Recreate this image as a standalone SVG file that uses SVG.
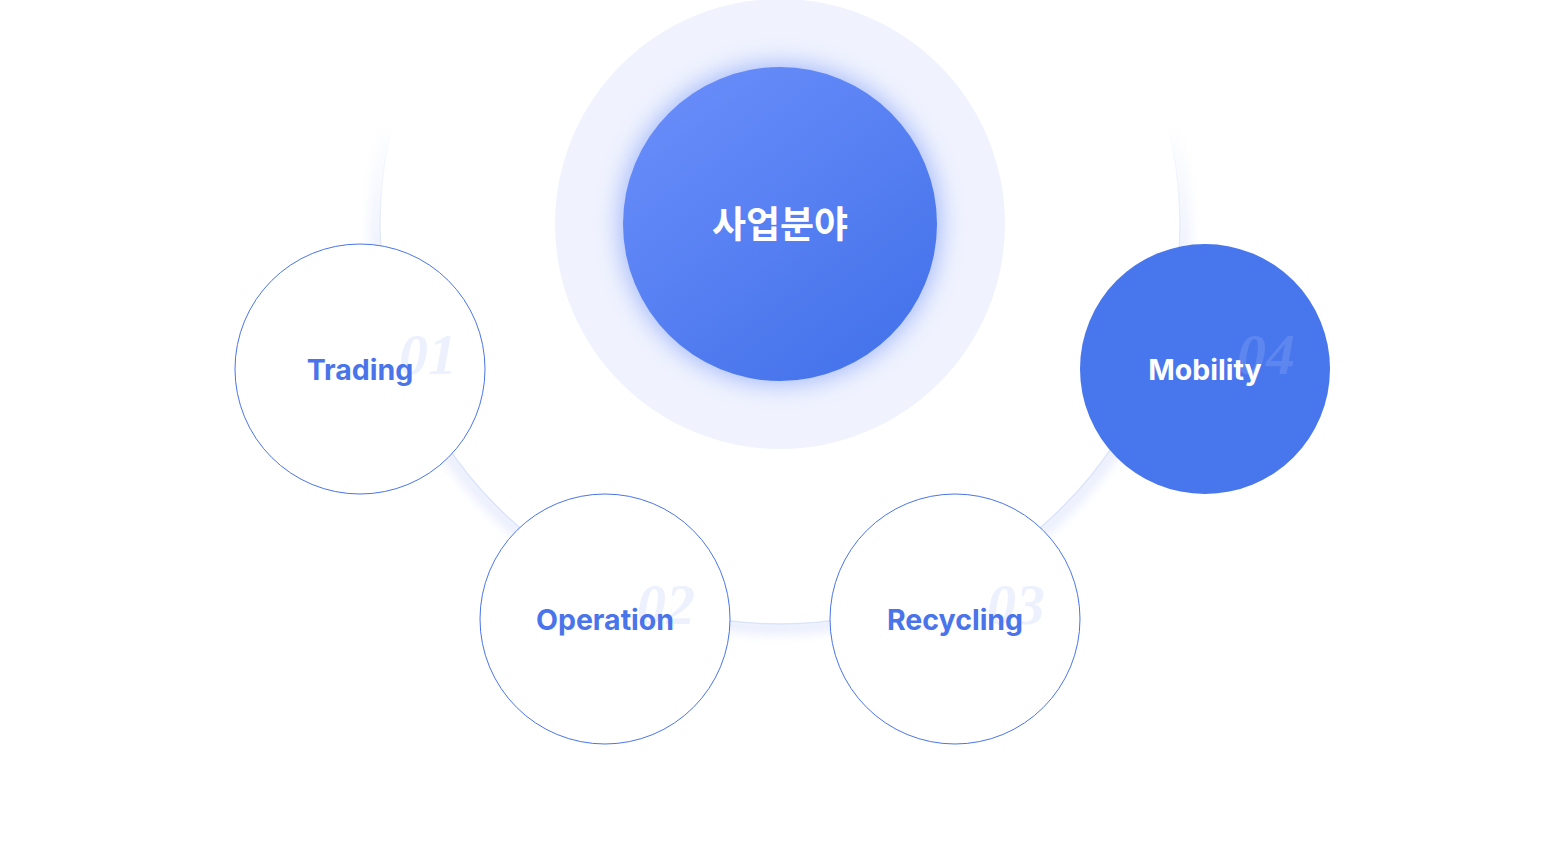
<svg xmlns="http://www.w3.org/2000/svg" width="1560" height="846" viewBox="0 0 1560 846">
<style>
.lbl{font-family:Inter,"Noto Sans",sans-serif;font-weight:700;font-size:28.5px;text-anchor:middle}
.num{font-family:"Liberation Serif",serif;font-weight:700;font-style:italic;font-size:58px;text-anchor:middle}
.ring{fill:#ffffff;stroke:#4a74ea;stroke-width:1}
</style>
<defs>
<linearGradient id="core" x1="0.2" y1="0.1" x2="0.8" y2="0.9">
<stop offset="0" stop-color="#668bf9"/>
<stop offset="1" stop-color="#4674eb"/>
</linearGradient>
<filter id="glow" x="-30%" y="-30%" width="160%" height="160%">
<feGaussianBlur stdDeviation="12"/>
</filter>
<filter id="soft" x="-10%" y="-10%" width="120%" height="120%">
<feGaussianBlur stdDeviation="6"/>
</filter>
<linearGradient id="fade" gradientUnits="userSpaceOnUse" x1="0" y1="120" x2="0" y2="270">
<stop offset="0" stop-color="#fff" stop-opacity="0"/>
<stop offset="1" stop-color="#fff" stop-opacity="1"/>
</linearGradient>
<mask id="ringMask" maskUnits="userSpaceOnUse" x="300" y="-200" width="960" height="900"><rect x="300" y="-200" width="960" height="900" fill="url(#fade)"/></mask>
</defs>
<rect width="1560" height="846" fill="#ffffff"/>
<g id="connectors" mask="url(#ringMask)">
<circle cx="780" cy="224" r="404" fill="none" stroke="#e3e9fc" stroke-width="10" filter="url(#soft)"/>
<circle cx="780" cy="224" r="400" fill="#ffffff" stroke="#dbe4fb" stroke-width="1.5"/>
</g>
<g id="center">
<circle cx="780" cy="224" r="225" fill="#f0f3fe"/>
<circle cx="780" cy="224" r="160" fill="#8fa9f7" opacity="0.8" filter="url(#glow)"/>
<circle cx="780" cy="224" r="157" fill="url(#core)"/>
<text x="780" y="238" font-family="'Noto Sans CJK KR',sans-serif" font-weight="700" font-size="37" fill="#ffffff" text-anchor="middle">사업분야</text>
</g>
<g id="trading">
<circle class="ring" cx="360" cy="369" r="125"/>
<text class="num" x="428" y="374" fill="#edf1fd">01</text>
<text class="lbl" x="360" y="380" fill="#4a74ea">Trading</text>
</g>
<g id="operation">
<circle class="ring" cx="605" cy="619" r="125"/>
<text class="num" x="666" y="624" fill="#edf1fd">02</text>
<text class="lbl" x="605" y="630" fill="#4a74ea">Operation</text>
</g>
<g id="recycling">
<circle class="ring" cx="955" cy="619" r="125"/>
<text class="num" x="1016" y="624" fill="#edf1fd">03</text>
<text class="lbl" x="955" y="630" fill="#4a74ea">Recycling</text>
</g>
<g id="mobility">
<circle cx="1205" cy="369" r="125" fill="#4876ec"/>
<text class="num" x="1266" y="374" fill="#5e86ef">04</text>
<text class="lbl" x="1205" y="380" fill="#ffffff">Mobility</text>
</g>
</svg>
